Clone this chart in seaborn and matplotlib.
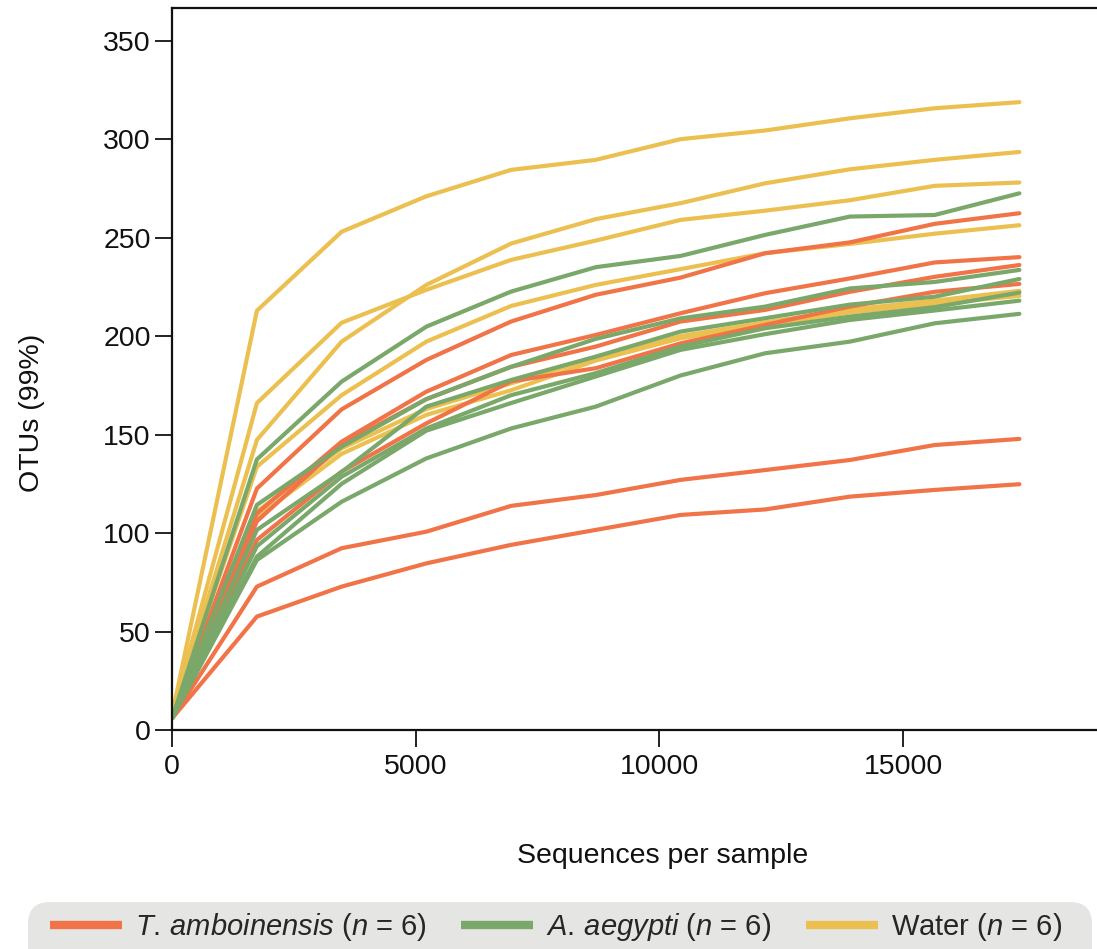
import matplotlib.transforms as mtransforms
import pandas as pd
import seaborn as sns
from matplotlib import pyplot as plt
from matplotlib.lines import Line2D
from matplotlib.patches import FancyBboxPatch

# rarefaction depths (sequences per sample)
DEPTHS = [10, 1747, 3484, 5221, 6958, 8695, 10432, 12169, 13906, 15643, 17380]

# T. amboinensis samples
AMBO_1 = [6, 122.6, 162.8, 187.9, 207.4, 221.0, 229.7, 242.1, 247.6, 257.0, 262.4]
AMBO_2 = [6, 110.0, 146.4, 171.8, 190.4, 200.6, 211.6, 221.8, 229.3, 237.4, 240.1]
AMBO_3 = [6, 106.0, 145.0, 168.0, 184.4, 194.7, 207.4, 213.3, 222.5, 230.1, 236.1]
AMBO_4 = [6, 96.5, 131.2, 155.7, 177.0, 183.7, 196.3, 205.7, 215.0, 222.5, 226.5]
AMBO_5 = [6, 72.8, 92.3, 100.7, 113.8, 119.3, 127.0, 132.0, 137.1, 144.7, 147.8]
AMBO_6 = [6, 57.6, 72.8, 84.6, 94.0, 101.6, 109.2, 112.0, 118.5, 121.9, 124.8]

# A. aegypti samples
AEG_1 = [6, 137.4, 176.9, 204.8, 222.6, 235.0, 240.7, 251.4, 260.7, 261.5, 272.5]
AEG_2 = [6, 114.3, 143.8, 168.0, 184.4, 198.6, 209.0, 215.0, 224.2, 227.5, 233.6]
AEG_3 = [6, 101.6, 131.0, 164.2, 177.7, 189.6, 202.3, 209.1, 216.0, 220.0, 229.0]
AEG_4 = [6, 93.3, 128.6, 153.1, 170.0, 181.2, 194.7, 204.0, 209.9, 214.7, 222.1]
AEG_5 = [6, 88.0, 125.0, 152.0, 166.0, 179.5, 193.0, 201.0, 208.2, 213.0, 218.0]
AEG_6 = [6, 86.3, 115.9, 137.9, 153.1, 164.2, 180.0, 191.3, 197.2, 206.5, 211.3]

# Water samples
WATER_1 = [8, 212.9, 253.0, 271.0, 284.4, 289.5, 300.0, 304.4, 310.6, 315.7, 318.8]
WATER_2 = [8, 147.3, 197.2, 226.0, 247.0, 259.4, 267.5, 277.6, 284.7, 289.5, 293.5]
WATER_3 = [8, 166.0, 206.8, 223.5, 238.7, 248.5, 259.0, 263.7, 269.0, 276.3, 278.0]
WATER_4 = [8, 133.7, 170.0, 197.2, 215.3, 226.0, 234.0, 242.1, 246.8, 252.0, 256.3]
WATER_5 = [8, 108.0, 140.2, 160.0, 172.5, 187.6, 198.9, 205.7, 212.0, 216.4, 220.4]
WATER_6 = [8, 111.0, 143.0, 163.0, 176.0, 189.0, 200.0, 207.0, 213.5, 218.0, 223.0]

GROUPS = ['T. amboinensis', 'A. aegypti', 'Water']
LEGEND_LABELS = [
    r'$\it{T.\,amboinensis}$ ($\it{n}$ = 6)',
    r'$\it{A.\,aegypti}$ ($\it{n}$ = 6)',
    r'Water ($\it{n}$ = 6)',
]
PALETTE = {'T. amboinensis': '#f07448', 'A. aegypti': '#7aa86a', 'Water': '#ecc050'}

samples = {
    'T. amboinensis': [AMBO_1, AMBO_2, AMBO_3, AMBO_4, AMBO_5, AMBO_6],
    'A. aegypti': [AEG_1, AEG_2, AEG_3, AEG_4, AEG_5, AEG_6],
    'Water': [WATER_1, WATER_2, WATER_3, WATER_4, WATER_5, WATER_6],
}

rows = []
for group, curves in samples.items():
    for i, curve in enumerate(curves):
        for depth, otus in zip(DEPTHS, curve):
            rows.append({'DEPTH': depth, 'OTUS': otus, 'GROUP': group, 'SAMPLE': '{}-{}'.format(group, i)})
df = pd.DataFrame(rows)

sns.set_theme(style='ticks')
plt.rcParams['font.family'] = ['Liberation Sans', 'DejaVu Sans']
plt.rcParams['mathtext.fontset'] = 'custom'
plt.rcParams['mathtext.rm'] = 'Liberation Sans'
plt.rcParams['mathtext.it'] = 'Liberation Sans:italic'

W, H = 1097, 949
fig = plt.figure(figsize=(W / 100, H / 100), dpi=100)
ax = fig.add_axes([171.7 / W, 1 - 730 / H, 926.7 / W, 722 / H])

sns.lineplot(
    data=df, x='DEPTH', y='OTUS', hue='GROUP', units='SAMPLE', estimator=None,
    hue_order=['Water', 'T. amboinensis', 'A. aegypti'], palette=PALETTE,
    lw=3, legend=False, ax=ax
)

ax.set_xlim(0, 19000)
ax.set_ylim(0, 366.6)
ax.set_xticks([0, 5000, 10000, 15000])
ax.set_yticks(range(0, 351, 50))

for side in ['left', 'bottom', 'top', 'right']:
    ax.spines[side].set_linewidth(1.6)
    ax.spines[side].set_color('#111111')

ax.tick_params(axis='both', direction='out', length=12, width=1.3, color='#111111',
               labelsize=20.5, labelcolor='#111111')
ax.tick_params(axis='y', pad=3)
ax.tick_params(axis='x', pad=5)

ax.set_xlabel('Sequences per sample', fontsize=20.5, color='#111111')
ax.set_ylabel('OTUs (99%)', fontsize=20.5, color='#111111')
ax.xaxis.set_label_coords(0.530, -0.157)
ax.yaxis.set_label_coords(-0.137, 0.439)

# legend on a rounded grey band at the bottom
band = FancyBboxPatch(
    (28, -30), 1064, H - 902 + 30, boxstyle='round,pad=0,rounding_size=22',
    transform=mtransforms.IdentityTransform(), facecolor='#e5e5e3', edgecolor='none', zorder=1
)
fig.add_artist(band)

handles = [Line2D([], [], color=PALETTE[g], lw=6, solid_capstyle='butt') for g in GROUPS]
fig.legend(
    handles, LEGEND_LABELS, loc='center', bbox_to_anchor=(0.5068, 1 - 927 / H), ncol=3,
    frameon=False, fontsize=21, handlelength=2.45, handletextpad=0.45, columnspacing=1.2
)

fig.savefig('out.png', dpi=100)
